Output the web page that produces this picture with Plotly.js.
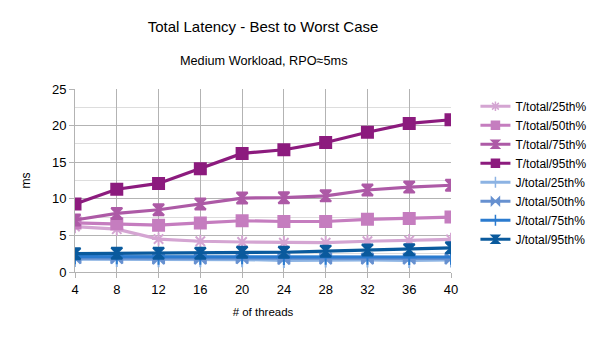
<!DOCTYPE html>
<html><head><meta charset="utf-8">
<script src="https://cdn.plot.ly/plotly-3.0.1.min.js"></script>
<style>html,body{margin:0;padding:0;background:#fff}#chart{width:604px;height:340px}</style>
</head><body><div id="chart"></div>
<script>
const threads = [4, 8, 12, 16, 20, 24, 28, 32, 36, 40];
const T25 = [6.2, 5.85, 4.5, 4.2, 4.1, 4.0, 4.0, 4.2, 4.3, 4.45];
const T50 = [6.7, 6.6, 6.4, 6.7, 7.0, 6.9, 6.9, 7.2, 7.3, 7.5];
const T75 = [7.1, 8.0, 8.5, 9.3, 10.1, 10.15, 10.4, 11.2, 11.6, 11.85];
const T95 = [9.3, 11.3, 12.1, 14.1, 16.2, 16.7, 17.7, 19.1, 20.3, 20.8];
const J25 = [1.75, 1.75, 1.7, 1.7, 1.7, 1.6, 1.65, 1.65, 1.6, 1.65];
const J50 = [1.9, 1.9, 1.85, 1.85, 1.9, 1.8, 1.85, 1.85, 1.85, 1.85];
const J75 = [2.1, 2.1, 2.05, 2.05, 2.1, 2.0, 2.05, 2.05, 2.0, 2.05];
const J95 = [2.5, 2.55, 2.55, 2.55, 2.7, 2.7, 2.85, 3.0, 3.05, 3.3];

const names = ['T/total/25th%','T/total/50th%','T/total/75th%','T/total/95th%','J/total/25th%','J/total/50th%','J/total/75th%','J/total/95th%'];
const series = [T25, T50, T75, T95, J25, J50, J75, J95];
const colors = ['#d4a5d2','#c57dbf','#ad5aa6','#8c1b7e','#8cb3e3','#6791d0','#2b7bcf','#0a5a9d'];
const symbols = ['asterisk-open','square','hourglass','square','cross-thin-open','bowtie','cross-thin-open','hourglass'];

const traces = series.map((s, i) => ({
  x: threads, y: s, name: names[i], type: 'scatter', mode: 'lines+markers', showlegend: false,
  line: {color: colors[i], width: 3.2},
  marker: {symbol: symbols[i], size: 11, color: colors[i], line: {color: colors[i], width: 2}}
}));
const legendTraces = series.map((s, i) => ({
  x: [null], y: [null], name: names[i], type: 'scatter', mode: 'lines+markers', showlegend: true,
  line: {color: colors[i], width: 3.2},
  marker: {symbol: symbols[i], size: 8, color: colors[i], line: {color: colors[i], width: 1.5}}
}));

const layout = {
  width: 604, height: 340,
  margin: {l: 75, r: 146, t: 89, b: 68},
  paper_bgcolor: '#fff', plot_bgcolor: '#fff',
  font: {family: 'Liberation Sans, Arial, sans-serif', size: 13, color: '#000'},
  title: {text: 'Total Latency - Best to Worst Case', font: {size: 15}, x: 0.5, xref: 'paper', y: 0.92, yref: 'container', yanchor: 'middle'},
  annotations: [{text: 'Medium Workload, RPO≈5ms', xref: 'paper', yref: 'paper', x: 0.5, y: 1.155, showarrow: false, font: {size: 12.7}, yanchor: 'middle'}],
  xaxis: {
    range: [4, 40], tickmode: 'array', tickvals: threads, ticktext: threads.map(String),
    showgrid: true, gridcolor: '#b3b3b3', zeroline: false,
    showline: true, linecolor: '#b3b3b3', ticks: 'outside', ticklen: 5, tickcolor: '#b3b3b3',
    title: {text: '# of threads', font: {size: 11.5}, standoff: 12},
    tickfont: {size: 13}
  },
  yaxis: {
    range: [0, 25], dtick: 5, showgrid: true, gridcolor: '#b3b3b3', zeroline: false,
    showline: true, linecolor: '#b3b3b3', ticks: 'outside', ticklen: 5, tickcolor: '#b3b3b3',
    minor: {dtick: 2.5, showgrid: true, gridcolor: '#dddddd'},
    title: {text: 'ms', font: {size: 12}, standoff: 18},
    tickfont: {size: 13}
  },
  showlegend: true,
  legend: {x: 1.065, xanchor: 'left', y: 0.985, yanchor: 'top', font: {size: 12}, tracegroupgap: 0, bgcolor: 'rgba(0,0,0,0)'}
};
Plotly.newPlot('chart', traces.concat(legendTraces), layout, {displayModeBar: false, staticPlot: true});
</script></body></html>
